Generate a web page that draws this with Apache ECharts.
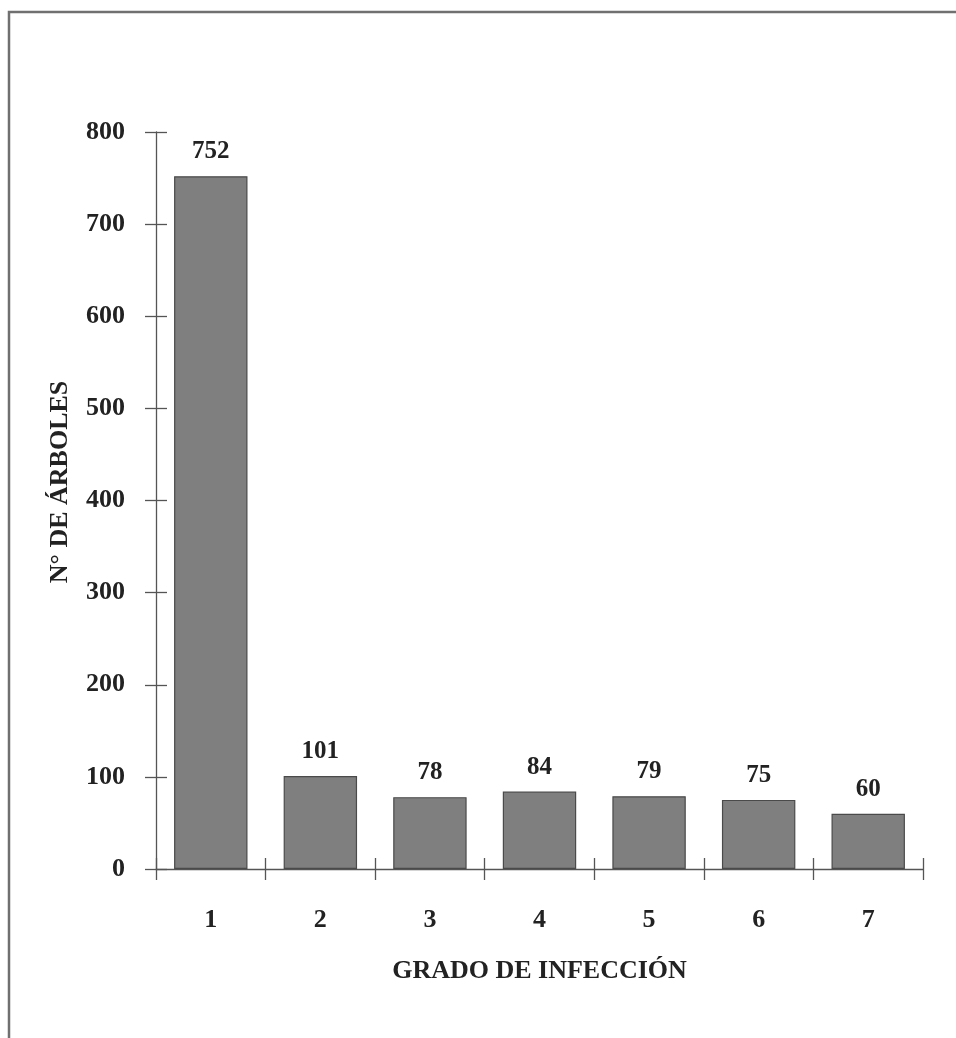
<!DOCTYPE html>
<html>
<head>
<meta charset="utf-8">
<script src="https://cdn.jsdelivr.net/npm/echarts@6/dist/echarts.min.js"></script>
<style>
  html, body { margin: 0; padding: 0; background: #ffffff; }
  #chart { width: 956px; height: 1038px; }
</style>
</head>
<body>
<div id="chart"></div>
<script>
// Trees per infection grade
const grades = ['1', '2', '3', '4', '5', '6', '7'];
const treeCounts = [752, 101, 78, 84, 79, 75, 60];
const yTicks = { min: 0, max: 800, interval: 100 };

const serif = '"Liberation Serif", "Times New Roman", serif';
const ink = '#222222';
const axisColor = '#555555';

const chart = echarts.init(document.getElementById('chart'), null, { renderer: 'canvas' });

const grid = { left: 156, right: 33, top: 132, bottom: 169 };

chart.setOption({
  backgroundColor: '#ffffff',
  animation: false,
  graphic: [
    {
      type: 'rect',
      shape: { x: 9, y: 12, width: 1000, height: 1100 },
      style: { fill: 'none', stroke: '#707070', lineWidth: 2.5 },
      silent: true
    },
    {
      // vertical axis title, read bottom-to-top
      type: 'text',
      x: 60, y: 482,
      rotation: Math.PI / 2,
      style: {
        text: 'N° DE ÁRBOLES',
        font: 'bold 26px ' + serif,
        fill: ink,
        align: 'center',
        verticalAlign: 'middle'
      },
      silent: true
    }
  ],
  grid: grid,
  xAxis: [
    {
      type: 'category',
      data: grades,
      boundaryGap: true,
      axisLine: { lineStyle: { color: axisColor, width: 1.3 } },
      axisTick: { show: true, interval: 0, length: 11, lineStyle: { color: axisColor, width: 1.3 } },
      axisLabel: { margin: 38, color: ink, fontFamily: serif, fontWeight: 'bold', fontSize: 26 },
      name: 'GRADO DE INFECCIÓN',
      nameLocation: 'middle',
      nameGap: 89,
      nameTextStyle: { color: ink, fontFamily: serif, fontWeight: 'bold', fontSize: 26 }
    },
    {
      type: 'category',
      data: grades,
      position: 'bottom',
      boundaryGap: true,
      axisLine: { show: false },
      axisTick: { show: true, inside: true, interval: 0, length: 11, lineStyle: { color: axisColor, width: 1.3 } },
      axisLabel: { show: false }
    }
  ],
  yAxis: [
    {
      type: 'value',
      min: yTicks.min, max: yTicks.max, interval: yTicks.interval,
      splitLine: { show: false },
      axisLine: { show: true, lineStyle: { color: axisColor, width: 1.3 } },
      axisTick: { show: true, length: 11, lineStyle: { color: axisColor, width: 1.3 } },
      axisLabel: { margin: 31, color: ink, fontFamily: serif, fontWeight: 'bold', fontSize: 26 }
    },
    {
      type: 'value',
      position: 'left',
      min: yTicks.min, max: yTicks.max, interval: yTicks.interval,
      splitLine: { show: false },
      axisLine: { show: false },
      axisTick: { show: true, inside: true, length: 11, lineStyle: { color: axisColor, width: 1.3 } },
      axisLabel: { show: false }
    }
  ],
  series: [
    {
      type: 'bar',
      data: treeCounts,
      barCategoryGap: '33%',
      itemStyle: { color: '#7f7f7f', borderColor: '#4a4a4a', borderWidth: 1.2 },
      label: {
        show: true,
        position: 'top',
        distance: 12,
        color: ink,
        fontFamily: serif,
        fontWeight: 'bold',
        fontSize: 25
      }
    }
  ]
});
</script>
</body>
</html>
